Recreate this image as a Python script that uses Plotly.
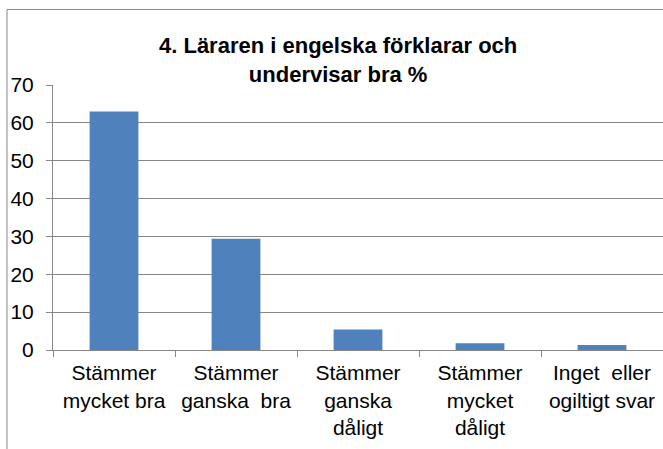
import plotly.graph_objects as go

categories = [
    "Stämmer<br>mycket bra",
    "Stämmer<br>ganska\u00a0 bra",
    "Stämmer<br>ganska<br>dåligt",
    "Stämmer<br>mycket<br>dåligt",
    "Inget\u00a0 eller<br>ogiltigt svar",
]
values = [63.0, 29.4, 5.4, 1.8, 1.3]
y_ticks = [0, 10, 20, 30, 40, 50, 60, 70]
title_text = "4. Läraren i engelska förklarar och<br>undervisar bra %"

FONT = "Liberation Sans, Arial, sans-serif"
GRAY = "#878787"

fig = go.Figure(
    go.Bar(
        x=categories,
        y=values,
        marker=dict(color="#4F81BD", line=dict(width=0)),
        width=0.4,
    )
)

fig.update_layout(
    width=663,
    height=449,
    margin=dict(l=53, r=0, t=85, b=99),
    paper_bgcolor="white",
    plot_bgcolor="white",
    showlegend=False,
    font=dict(family=FONT, size=21, color="black"),
    title=dict(
        text="<b>" + title_text + "</b>",
        x=0.51,
        xanchor="center",
        y=0.882,
        yanchor="top",
        font=dict(family=FONT, size=22, color="black"),
    ),
)

fig.update_xaxes(
    range=[-0.5, 4.5],
    automargin=False,
    showline=True,
    linecolor=GRAY,
    linewidth=1,
    ticks="outside",
    tickson="boundaries",
    ticklen=6,
    tickcolor=GRAY,
    showgrid=False,
    ticklabelstandoff=4,
    tickfont=dict(family=FONT, size=21),
    tickangle=0,
)

fig.update_yaxes(
    range=[0, 70],
    automargin=False,
    tickvals=y_ticks,
    showline=True,
    linecolor=GRAY,
    linewidth=1,
    ticks="outside",
    ticklen=6,
    tickcolor=GRAY,
    showgrid=True,
    gridcolor=GRAY,
    gridwidth=1,
    zeroline=False,
    ticklabelstandoff=8,
    tickfont=dict(family=FONT, size=21),
)

fig.add_shape(
    type="rect",
    xref="paper",
    yref="paper",
    x0=-0.0754,
    x1=1.2,
    y0=-0.6,
    y1=1.285,
    line=dict(color=GRAY, width=1),
    fillcolor="rgba(0,0,0,0)",
    layer="below",
)

fig.write_html(
    "out.html",
    config={"displayModeBar": False},
    post_script="document.body.style.margin='0';document.body.style.overflow='hidden';",
)
